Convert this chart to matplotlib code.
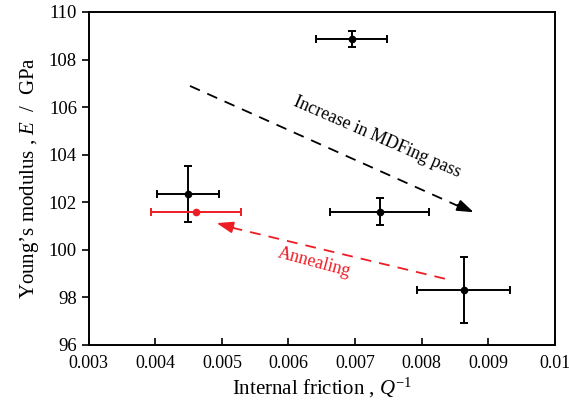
import matplotlib
matplotlib.use('Agg')
import matplotlib.pyplot as plt

plt.rcParams['font.family'] = ['Liberation Serif', 'DejaVu Serif']
plt.rcParams['mathtext.fontset'] = 'custom'
plt.rcParams['mathtext.rm'] = 'Liberation Serif'
plt.rcParams['mathtext.it'] = 'Liberation Serif:italic'

# Datos MDFing (negro)
q_black = [0.00695, 0.00449, 0.00737, 0.00863]
e_black = [108.87, 102.34, 101.6, 98.3]
qerr_black = [0.00053, 0.00047, 0.00074, 0.0007]
eerr_black = [0.33, 1.17, 0.58, 1.4]

# Recocido (rojo)
q_red = [0.00461]
e_red = [101.6]
qerr_red = [0.00068]

xticks = [0.003, 0.004, 0.005, 0.006, 0.007, 0.008, 0.009, 0.01]
xtick_labels = ['0.003', '0.004', '0.005', '0.006', '0.007', '0.008', '0.009', '0.01']
yticks = [96, 98, 100, 102, 104, 106, 108, 110]

fig = plt.figure(figsize=(5.69, 4.13), dpi=100)
ax = fig.add_axes([0.156, 0.165, 0.819, 0.806])

ax.errorbar(q_black, e_black, xerr=qerr_black, yerr=eerr_black, fmt='o', color='black',
            ms=4.5, elinewidth=1.4, capsize=3, capthick=1.4)
ax.errorbar(q_red, e_red, xerr=qerr_red, fmt='o', color='#ee1c24',
            ms=4.5, elinewidth=1.4, capsize=3, capthick=1.4)

# flecha negra discontinua
ax.plot([0.00452, 0.00858], [106.89, 101.8], color='black', ls=(0, (6, 4.5)), lw=1.3)
ax.annotate('', xy=(0.00882, 101.53), xytext=(0.00850, 101.93),
            arrowprops=dict(arrowstyle='-|>,head_length=1.0,head_width=0.35', color='black', lw=1.3))
ax.text(0.00733, 104.75, 'Increase in MDFing pass', rotation=-23.5, ha='center', va='center', fontsize=13)

# flecha roja discontinua
ax.plot([0.00835, 0.00512], [98.78, 100.95], color='#ee1c24', ls=(0, (6, 4.5)), lw=1.3)
ax.annotate('', xy=(0.00488, 101.15), xytext=(0.00522, 100.9),
            arrowprops=dict(arrowstyle='-|>,head_length=1.0,head_width=0.35', color='#ee1c24', lw=1.3))
ax.text(0.00638, 99.45, 'Annealing', rotation=-15, ha='center', va='center', fontsize=13, color='#ee1c24')

ax.set_xlim(0.003, 0.01)
ax.set_ylim(96, 110)
ax.set_xticks(xticks)
ax.set_xticklabels(xtick_labels)
ax.set_yticks(yticks)
ax.tick_params(axis='x', direction='in', length=5, width=1.2, labelsize=13, pad=7)
ax.tick_params(axis='y', direction='out', length=5, width=1.2, labelsize=13.5)
for s in ax.spines.values():
    s.set_linewidth(1.4)

ax.set_xlabel('Internal friction , $Q^{-1}$', fontsize=15, labelpad=3)
ax.set_ylabel('Young\u2019s modulus , $E$  /  GPa', fontsize=15, labelpad=6)

fig.savefig('out.png', dpi=100)
